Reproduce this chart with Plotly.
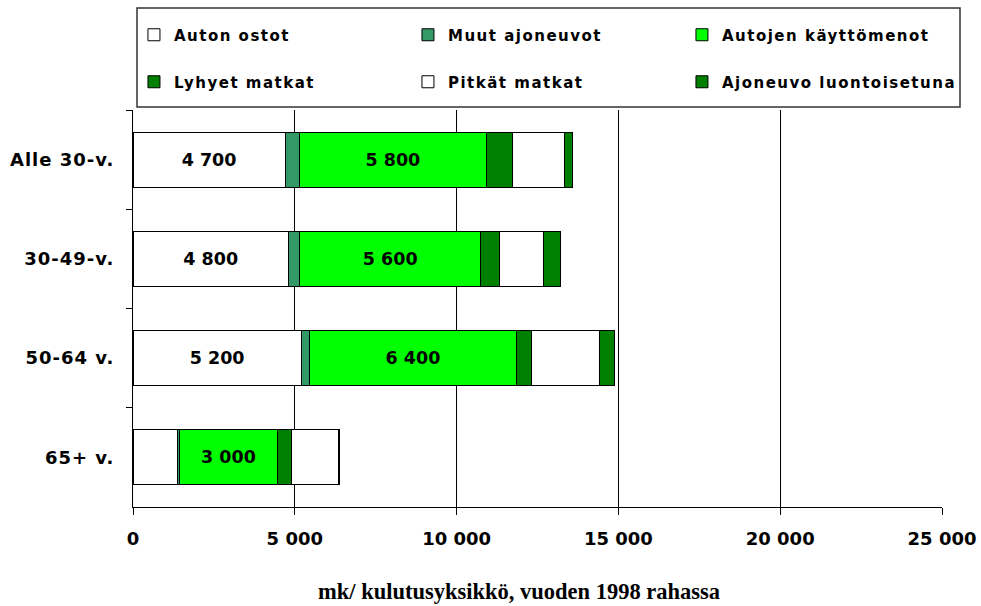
import plotly.graph_objects as go

# Age groups (top to bottom)
groups = ["Alle 30-v.", "30-49-v.", "50-64 v.", "65+ v."]

# Transport spending per consumption unit, mk (1998 money)
auton_ostot = [4700, 4800, 5200, 1380]
muut_ajoneuvot = [430, 350, 250, 70]
kayttomenot = [5800, 5600, 6400, 3000]
lyhyet_matkat = [800, 570, 460, 440]
pitkat_matkat = [1600, 1380, 2110, 1470]
luontoisetu = [250, 520, 460, 30]

# Which segments carry a value label
auton_ostot_labelled = [True, True, True, False]
kayttomenot_labelled = [True, True, True, True]

x_ticks = [0, 5000, 10000, 15000, 20000, 25000]


def fmt(v):
    return f"{v:,}".replace(",", " ")


def labels(values, mask):
    return [fmt(v) if m else "" for v, m in zip(values, mask)]


series = [
    ("Auton ostot", auton_ostot, "#FFFFFF", labels(auton_ostot, auton_ostot_labelled), "legend"),
    ("Muut ajoneuvot", muut_ajoneuvot, "#339966", None, "legend"),
    ("Autojen käyttömenot", kayttomenot, "#00FF00", labels(kayttomenot, kayttomenot_labelled), "legend"),
    ("Lyhyet matkat", lyhyet_matkat, "#008000", None, "legend2"),
    ("Pitkät matkat", pitkat_matkat, "#FFFFFF", None, "legend2"),
    ("Ajoneuvo luontoisetuna", luontoisetu, "#008000", None, "legend2"),
]

BOLD = "DejaVu Sans"

fig = go.Figure()
for name, vals, color, text, leg in series:
    fig.add_trace(go.Bar(
        name=name,
        y=groups,
        x=vals,
        orientation="h",
        marker=dict(color=color, line=dict(color="#000000", width=1)),
        text=text,
        textposition="inside" if text else "none",
        insidetextanchor="middle",
        textangle=0,
        constraintext="none",
        textfont=dict(family=BOLD, size=17.5, color="#000000", weight="bold"),
        legend=leg,
        hoverinfo="x+name",
    ))

legend_common = dict(
    orientation="h",
    xanchor="right",
    x=1.0222 - 4 / 809,
    yanchor="middle",
    bgcolor="rgba(0,0,0,0)",
    borderwidth=0,
    entrywidth=229,
    entrywidthmode="pixels",
    itemclick=False,
    itemdoubleclick=False,
    font=dict(family=BOLD, size=15, color="#000000", weight="bold"),
    traceorder="normal",
)

fig.update_layout(
    width=981,
    height=606,
    margin=dict(l=133, r=39, t=110, b=99, autoexpand=False),
    paper_bgcolor="#FFFFFF",
    plot_bgcolor="#FFFFFF",
    barmode="stack",
    bargap=0.445,
    separators=", ",
    showlegend=True,
    legend=dict(legend_common, y=(507 - 35) / 397),
    legend2=dict(legend_common, y=(507 - 82) / 397),
    xaxis=dict(
        range=[0, 25000],
        tickvals=x_ticks,
        tickformat=",d",
        automargin=False,
        showgrid=True,
        gridcolor="#000000",
        gridwidth=1,
        zeroline=False,
        showline=True,
        linecolor="#000000",
        linewidth=1,
        ticks="outside",
        ticklen=7,
        tickcolor="#000000",
        tickfont=dict(family=BOLD, size=18, color="#000000", weight="bold"),
        ticklabelstandoff=8,
        fixedrange=True,
    ),
    yaxis=dict(
        categoryorder="array",
        categoryarray=groups,
        autorange="reversed",
        automargin=False,
        showgrid=False,
        zeroline=False,
        showline=True,
        linecolor="#000000",
        linewidth=1,
        ticks="outside",
        tickson="boundaries",
        ticklen=6,
        tickcolor="#000000",
        tickfont=dict(family=BOLD, size=18, color="#000000", weight="bold"),
        ticklabelstandoff=14,
        fixedrange=True,
    ),
    shapes=[
        dict(
            type="rect",
            xref="paper", yref="paper",
            x0=(137 - 133) / 809, x1=(960 - 133) / 809,
            y0=(507 - 107) / 397, y1=(507 - 8) / 397,
            line=dict(color="#333333", width=1.5),
            fillcolor="rgba(0,0,0,0)",
            layer="below",
        )
    ],
    annotations=[
        dict(
            text="mk/ kulutusyksikkö, vuoden 1998 rahassa",
            xref="paper", yref="paper",
            x=(519 - 133) / 809, y=(507 - 591) / 397,
            xanchor="center", yanchor="middle",
            showarrow=False,
            font=dict(family="Liberation Serif", size=22.5, color="#000000", weight="bold"),
        )
    ],
)

# Widen the letter spacing of both legends and the category labels with a stylesheet rule
spacing_js = """
var css = document.createElement('style');
css.textContent = '.legendtext, .legend2text { letter-spacing: 1.5px; } .ytick text { letter-spacing: 1px; }';
document.head.appendChild(css);
"""

fig.write_html("out.html", config={"displayModeBar": False}, post_script=spacing_js)
